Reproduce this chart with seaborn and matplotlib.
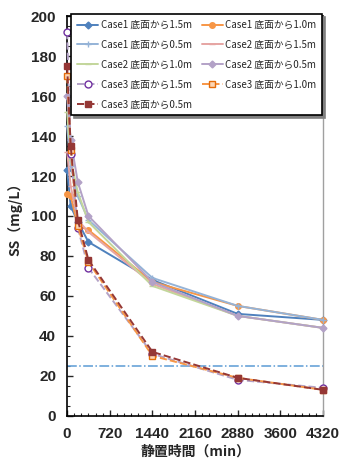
import pandas as pd
import matplotlib
matplotlib.use('Agg')
import matplotlib.pyplot as plt
from matplotlib.ticker import MultipleLocator
import seaborn as sns

# elapsed settling time (min)
time_min = [0, 60, 180, 360, 1440, 2880, 4320]

labels = ['Case1 底面から1.5m', 'Case1 底面から1.0m', 'Case1 底面から0.5m',
          'Case2 底面から1.5m', 'Case2 底面から1.0m', 'Case2 底面から0.5m',
          'Case3 底面から1.5m', 'Case3 底面から1.0m', 'Case3 底面から0.5m']

c1_15 = [123, 105, 97, 87, 68, 51, 48]
c1_10 = [111, 110, 95, 93, 67, 55, 48]
c1_05 = [145, 125, 110, 98, 69, 55, 48]
c2_15 = [132, 115, 98, 92, 66, 50, 44]
c2_10 = [152, 128, 112, 97, 65, 50, 44]
c2_05 = [160, 138, 117, 100, 67, 50, 44]
c3_15 = [192, 131, 94, 74, 31, 18, 14]
c3_10 = [170, 133, 95, 77, 30, 19, 13]
c3_05 = [175, 135, 98, 78, 32, 19, 13]
series = [c1_15, c1_10, c1_05, c2_15, c2_10, c2_05, c3_15, c3_10, c3_05]

target_ss = 25

df = pd.concat([pd.DataFrame({'time': time_min, 'SS': v, 'series': lab})
                for lab, v in zip(labels, series)], ignore_index=True)

styles = {
    labels[0]: dict(color='#4F81BD', marker='D', ms=3.5, mfc='#4F81BD', mec='#4F81BD', ls='-'),
    labels[1]: dict(color='#F79646', marker='o', ms=4, mfc='#F79646', mec='#F79646', ls='-'),
    labels[2]: dict(color='#95B3D7', marker='+', ms=5, mfc='#95B3D7', mec='#95B3D7', ls='-'),
    labels[3]: dict(color='#E6A5A3', marker='_', ms=4, mfc='#E6A5A3', mec='#E6A5A3', ls='-'),
    labels[4]: dict(color='#C3D69B', marker='_', ms=4, mfc='#C3D69B', mec='#C3D69B', ls='-'),
    labels[5]: dict(color='#B3A2C7', marker='D', ms=3.5, mfc='#B3A2C7', mec='#B3A2C7', ls='-'),
    labels[6]: dict(color='#B3A2C7', marker='o', ms=5, mfc='white', mec='#7030A0', ls='--'),
    labels[7]: dict(color='#F79646', marker='s', ms=5, mfc='#FCD5B4', mec='#E46C0A', ls='--'),
    labels[8]: dict(color='#953735', marker='s', ms=5, mfc='#953735', mec='#953735', ls='--'),
}

sns.set_style('ticks')
plt.rcParams['font.family'] = ['Noto Sans CJK JP', 'DejaVu Sans']

fig = plt.figure(figsize=(3.39, 4.61), dpi=100)
ax = fig.add_axes([0.198, 0.098, 0.755, 0.867])

for lab in labels:
    st = styles[lab]
    d = df[df['series'] == lab]
    sns.lineplot(data=d, x='time', y='SS', ax=ax, color=st['color'], linestyle=st['ls'],
                 marker=st['marker'], markersize=st['ms'], markerfacecolor=st['mfc'],
                 markeredgecolor=st['mec'], markeredgewidth=1.0, linewidth=1.4,
                 label=lab, clip_on=False, zorder=3)

ax.axhline(target_ss, color='#5B9BD5', linestyle='-.', linewidth=1.1, zorder=2)

ax.set_xlim(0, 4320)
ax.set_ylim(0, 200)
ax.xaxis.set_major_locator(MultipleLocator(720))
ax.xaxis.set_minor_locator(MultipleLocator(120))
ax.yaxis.set_major_locator(MultipleLocator(20))
ax.yaxis.set_minor_locator(MultipleLocator(5))
ax.tick_params(which='major', direction='in', length=4, width=1, labelsize=11, pad=8)
ax.tick_params(which='minor', direction='in', length=2.5, width=0.8)
for lbl in ax.get_xticklabels() + ax.get_yticklabels():
    lbl.set_fontweight('bold')
    lbl.set_family(['Liberation Sans'])

ax.spines['left'].set_color('black')
ax.spines['bottom'].set_color('black')
ax.spines['top'].set_color('black')
ax.spines['right'].set_color('#A0A0A0')
for s in ax.spines.values():
    s.set_linewidth(1.2)
ax.spines['right'].set_linewidth(1.0)

ax.set_xlabel('静置時間（min）', fontsize=10, fontweight='bold', labelpad=3)
ax.set_ylabel('SS（mg/L）', fontsize=10, fontweight='bold', labelpad=6)

# legend filled row by row, as in the source chart
handles, leg_labels = ax.get_legend_handles_labels()
order = [0, 2, 4, 6, 8, 1, 3, 5, 7]
leg = ax.legend([handles[i] for i in order], [leg_labels[i] for i in order],
                loc='upper right', bbox_to_anchor=(0.997, 1.005),
                ncol=2, fontsize=7, frameon=True, fancybox=False, handlelength=2.2,
                handletextpad=0.25, columnspacing=1.0, labelspacing=1.02, borderpad=0.6,
                borderaxespad=0.0, shadow={'color': '#808080', 'alpha': 1.0})
leg.get_frame().set_edgecolor('black')
leg.get_frame().set_linewidth(1.2)

fig.savefig('out.png', dpi=100)
